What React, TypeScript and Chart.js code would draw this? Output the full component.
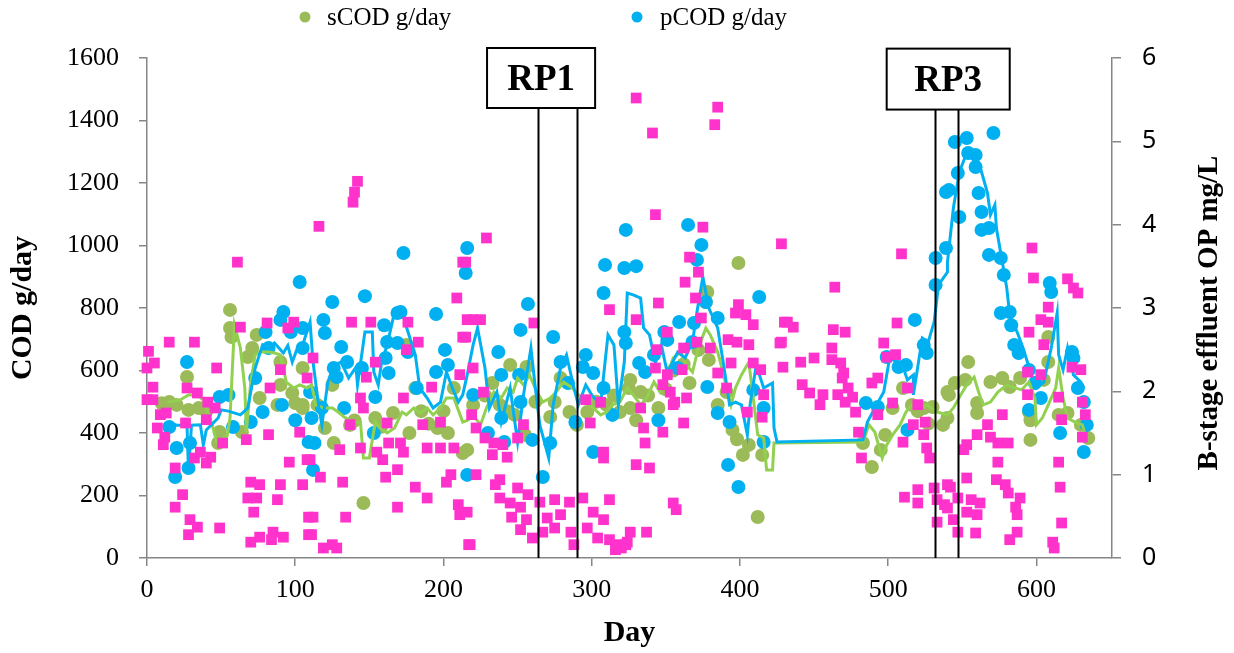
import React, { useEffect, useRef } from "react";
import { Chart, registerables } from "chart.js";

Chart.register(...registerables);

// ---- data (day, value) ----
const sCodPoints: [number, number][] = [
  [10, 495], [15, 499], [20, 490], [27, 579], [28, 474], [35, 480], [40, 470], [48, 368], [49, 403], [56, 794], [56, 736], [57, 707],
  [64, 403], [68, 643], [71, 672], [74, 714], [76, 512], [88, 490], [90, 554], [90, 627], [98, 528], [100, 496], [105, 480],
  [105, 490], [105, 608], [115, 490], [120, 416], [125, 554], [126, 368], [137, 426], [140, 440], [146, 176], [154, 448],
  [158, 420], [166, 464], [175, 682], [177, 400], [181, 544], [185, 470], [190, 430], [196, 416], [200, 470], [203, 400],
  [207, 544], [213, 336], [216, 346], [220, 490], [228, 520], [233, 560], [238, 490], [243, 470], [245, 618], [248, 458],
  [255, 394], [256, 611], [262, 500], [272, 451], [275, 499], [279, 576], [285, 467], [290, 426], [297, 467], [303, 500],
  [310, 490], [315, 520], [319, 467], [325, 544], [326, 570], [326, 480], [330, 441], [333, 531], [338, 520], [345, 480],
  [350, 540], [355, 600], [362, 620], [366, 560], [372, 666], [377, 819], [378, 851], [379, 634], [385, 490], [391, 531],
  [395, 410], [398, 380], [399, 944], [402, 330], [406, 362], [412, 131], [415, 330], [483, 368], [489, 291], [495, 346],
  [498, 394], [503, 480], [510, 544], [516, 490], [520, 470], [524, 480], [527, 430], [530, 483], [537, 426], [540, 531],
  [540, 448], [541, 522], [545, 560], [552, 570], [554, 627], [560, 496], [560, 464], [569, 563], [577, 576], [582, 547],
  [589, 576], [595, 467], [596, 441], [596, 378], [605, 570], [608, 707], [608, 627], [615, 458], [621, 464], [630, 426],
  [635, 384],
];

const pCodPoints: [number, number][] = [
  [15, 419], [19, 259], [20, 352], [27, 627], [28, 288], [29, 368], [49, 515], [55, 522], [58, 419], [70, 435], [73, 576],
  [78, 467], [80, 723], [82, 672], [90, 762], [91, 490], [92, 787], [97, 723], [100, 441], [103, 883], [105, 736], [105, 672],
  [109, 371], [110, 531], [111, 448], [112, 282], [113, 368], [118, 480], [119, 762], [120, 720], [125, 819], [126, 608],
  [128, 579], [131, 675], [133, 480], [135, 627], [145, 608], [147, 838], [153, 400], [154, 515], [160, 745], [161, 640],
  [162, 691], [163, 592], [169, 784], [169, 688], [171, 787], [173, 976], [176, 659], [182, 544], [195, 781], [195, 595],
  [201, 666], [203, 618], [215, 912], [216, 992], [216, 266], [220, 522], [230, 400], [237, 659], [239, 586], [239, 448],
  [241, 371], [251, 586], [252, 730], [252, 499], [257, 813], [260, 378], [267, 259], [272, 368], [274, 707], [279, 627],
  [284, 560], [289, 435], [294, 611], [296, 650], [301, 592], [301, 339], [308, 848], [308, 544], [309, 938], [314, 458],
  [322, 928], [322, 723], [323, 1050], [323, 688], [330, 934], [332, 624], [336, 595], [342, 650], [345, 441], [349, 723],
  [351, 698], [358, 608], [359, 755], [365, 1066], [368, 691], [369, 752], [371, 954], [374, 1002], [377, 819], [378, 547],
  [385, 768], [385, 464], [392, 298], [393, 435], [399, 227], [409, 538], [413, 835], [416, 480], [416, 371], [485, 496],
  [493, 483], [499, 643], [507, 611], [512, 618], [513, 410], [518, 762], [524, 682], [526, 656], [532, 874], [532, 960],
  [539, 992], [539, 1171], [541, 1178], [545, 1331], [547, 1232], [548, 1091], [553, 1344], [554, 1296], [559, 1290],
  [559, 1251], [561, 1168], [563, 1107], [563, 1050], [568, 1056], [568, 970], [571, 1360], [576, 960], [576, 784],
  [578, 906], [582, 787], [583, 745], [585, 682], [588, 656], [595, 602], [595, 474], [599, 560], [603, 512], [609, 880],
  [610, 851], [616, 400], [624, 659], [625, 640], [628, 544], [632, 499], [632, 339], [634, 426],
];

const sCodTrend: [number, number][] = [
  [14, 499], [22, 505], [28, 522], [34, 522], [38, 505], [44, 426], [47, 371], [51, 384], [54, 390], [56, 448], [59, 746],
  [63, 672], [66, 544], [67, 403], [70, 563], [73, 650], [76, 659], [82, 659], [86, 656], [90, 650], [94, 563], [99, 544],
  [103, 554], [108, 544], [111, 554], [114, 490], [119, 480], [125, 480], [129, 467], [133, 451], [139, 435], [144, 435],
  [146, 320], [150, 320], [154, 435], [157, 416], [162, 400], [167, 416], [172, 467], [175, 458], [180, 480], [184, 464],
  [189, 480], [193, 458], [198, 480], [202, 512], [207, 512], [213, 435], [216, 440], [220, 458], [225, 426], [229, 480],
  [234, 531], [239, 512], [243, 544], [247, 531], [250, 576], [254, 554], [258, 586], [263, 531], [267, 499], [272, 512],
  [276, 531], [281, 563], [287, 544], [291, 522], [296, 499], [301, 480], [306, 458], [310, 467], [314, 490], [319, 499],
  [324, 544], [328, 522], [333, 490], [337, 512], [342, 563], [346, 531], [351, 586], [355, 640], [360, 659], [364, 618],
  [368, 595], [372, 672], [377, 736], [380, 714], [385, 659], [389, 586], [394, 490], [397, 544], [401, 586], [406, 627],
  [409, 512], [412, 394], [416, 384], [418, 282], [422, 282], [423, 368], [483, 371], [487, 426], [491, 403], [496, 320],
  [499, 362], [503, 394], [508, 426], [512, 467], [516, 490], [522, 480], [526, 490], [533, 467], [540, 458], [544, 480],
  [549, 522], [553, 554], [558, 579], [561, 531], [564, 490], [569, 499], [574, 531], [580, 554], [584, 547], [590, 538],
  [595, 563], [599, 512], [600, 426], [604, 448], [608, 490], [613, 544], [615, 608], [618, 512], [621, 448], [626, 435],
  [631, 426], [633, 394],
];

const pCodTrend: [number, number][] = [
  [15, 432], [20, 425], [27, 425], [28, 275], [30, 425], [36, 426], [38, 362], [40, 410], [48, 448], [50, 474], [55, 470],
  [63, 458], [68, 480], [70, 531], [73, 608], [78, 682], [83, 672], [86, 688], [92, 656], [95, 680], [98, 627], [101, 666],
  [105, 682], [110, 755], [112, 627], [116, 480], [118, 426], [122, 563], [126, 618], [131, 627], [136, 576], [141, 611],
  [142, 554], [147, 723], [152, 723], [153, 595], [156, 554], [158, 618], [162, 682], [167, 787], [172, 794], [175, 739],
  [181, 650], [184, 544], [189, 512], [193, 480], [198, 499], [202, 595], [206, 544], [210, 499], [213, 522], [216, 586],
  [220, 682], [223, 736], [228, 608], [231, 480], [236, 531], [239, 435], [245, 544], [250, 371], [254, 522], [259, 672],
  [262, 544], [265, 426], [271, 320], [274, 490], [279, 608], [283, 650], [288, 544], [291, 490], [296, 554], [300, 522],
  [306, 490], [309, 627], [311, 714], [315, 682], [318, 490], [322, 627], [324, 848], [328, 842], [333, 832], [335, 736],
  [339, 714], [343, 624], [347, 682], [351, 592], [358, 659], [363, 640], [368, 691], [371, 787], [375, 899], [379, 800],
  [385, 736], [389, 618], [393, 490], [397, 499], [401, 490], [405, 394], [407, 496], [411, 618], [416, 544], [422, 560],
  [423, 416], [425, 371], [483, 378], [486, 435], [491, 480], [497, 531], [501, 640], [506, 627], [510, 611], [513, 570],
  [517, 586], [517, 522], [523, 704], [527, 691], [531, 755], [534, 874], [540, 915], [540, 947], [544, 1120], [548, 1235],
  [553, 1296], [559, 1290], [563, 1235], [567, 1168], [569, 1098], [572, 1130], [573, 1056], [577, 947], [580, 864],
  [582, 778], [587, 723], [591, 672], [596, 595], [600, 544], [605, 563], [610, 672], [614, 784], [615, 650], [618, 602],
  [621, 672], [625, 586], [630, 563], [632, 544],
];

const opPoints: [number, number][] = [
  [61, 3.55], [15, 2.59], [32, 2.59], [1, 2.48], [5, 2.34], [0, 2.28], [4, 2.05], [0, 1.9], [4, 1.9], [47, 2.28], [27, 2.04],
  [34, 1.98], [9, 1.72], [13, 1.74], [7, 1.56], [12, 1.45], [11, 1.36], [26, 1.62], [41, 1.87], [46, 1.8], [40, 1.66],
  [51, 1.38], [63, 2.77], [81, 2.82], [99, 2.83], [95, 2.76], [83, 2.04], [90, 2.26], [67, 1.42], [82, 1.48], [103, 1.51],
  [19, 1.08], [32, 1.2], [40, 1.14], [43, 1.21], [36, 1.27], [96, 1.15], [108, 1.18], [70, 0.91], [76, 0.88], [90, 0.88],
  [105, 0.88], [68, 0.72], [74, 0.72], [88, 0.7], [24, 0.76], [19, 0.61], [72, 0.55], [29, 0.46], [34, 0.37], [28, 0.28],
  [49, 0.36], [70, 0.19], [76, 0.25], [84, 0.22], [85, 0.31], [92, 0.25], [109, 0.28], [109, 0.49],
  [142, 4.52], [140, 4.39], [139, 4.27], [116, 3.98], [213, 3.55], [209, 3.12], [138, 2.83], [151, 2.83], [176, 2.83],
  [216, 2.86], [183, 2.59], [213, 2.65], [175, 2.5], [154, 2.35], [148, 2.17], [108, 2.16], [112, 2.4], [192, 2.05],
  [211, 2.2], [173, 1.92], [144, 1.92], [146, 1.8], [137, 1.6], [162, 1.62], [186, 1.6], [198, 1.63], [163, 1.38],
  [171, 1.38], [144, 1.32], [130, 1.3], [155, 1.27], [173, 1.27], [189, 1.32], [198, 1.32], [207, 1.32], [110, 1.18],
  [159, 1.18], [117, 0.97], [132, 0.91], [161, 0.97], [169, 1.06], [202, 0.91], [205, 1.0], [181, 0.85], [189, 0.72],
  [112, 0.49], [134, 0.49], [169, 0.61], [210, 0.64], [211, 0.52], [111, 0.28], [119, 0.12], [125, 0.16], [128, 0.12],
  [217, 0.16],
  [229, 3.84], [215, 3.55], [312, 2.98], [220, 2.86], [225, 2.86], [261, 2.82], [215, 2.65], [220, 2.28], [227, 1.99],
  [254, 1.6], [299, 1.62], [306, 1.87], [296, 1.9], [219, 1.72], [222, 1.56], [228, 1.44], [234, 1.38], [240, 1.36],
  [250, 1.44], [233, 1.24], [243, 1.21], [308, 1.27], [308, 1.2], [222, 1.0], [238, 0.94], [235, 0.88], [250, 0.84],
  [257, 0.76], [238, 0.72], [245, 0.66], [252, 0.61], [265, 0.67], [275, 0.7], [285, 0.67], [294, 0.72], [312, 0.7],
  [246, 0.49], [256, 0.46], [270, 0.48], [279, 0.52], [301, 0.55], [308, 0.46], [252, 0.34], [267, 0.31], [275, 0.36],
  [286, 0.31], [297, 0.36], [288, 0.16], [304, 0.24], [312, 0.22], [318, 0.16], [324, 0.19], [218, 0.16], [260, 0.24],
  [216, 0.55], [320, 0.12], [316, 0.1],
  [330, 5.52], [341, 5.1], [385, 5.41], [383, 5.2], [343, 4.12], [428, 3.77], [375, 3.97], [366, 3.61], [372, 3.43],
  [363, 3.31], [370, 3.12], [345, 3.06], [430, 2.83], [330, 2.86], [351, 2.71], [374, 2.88], [380, 2.52], [399, 3.04],
  [404, 2.92], [409, 2.8], [397, 2.94], [392, 2.62], [398, 2.59], [406, 2.56], [427, 2.58], [429, 2.29], [344, 2.5],
  [362, 2.52], [371, 2.59], [385, 2.22], [394, 2.34], [409, 2.34], [414, 2.26], [343, 2.28], [351, 2.2], [348, 2.08],
  [361, 2.26], [391, 2.04], [353, 1.99], [356, 1.87], [364, 1.92], [333, 1.8], [355, 1.84], [416, 1.96], [405, 1.75],
  [415, 1.69], [335, 1.56], [348, 1.51], [362, 1.62], [336, 1.38], [330, 1.12], [339, 1.08], [355, 0.66], [357, 0.58],
  [326, 0.31], [337, 0.31], [323, 0.16],
  [509, 3.65], [464, 3.25], [432, 2.83], [436, 2.77], [428, 2.59], [463, 2.74], [471, 2.71], [506, 2.82], [441, 2.35],
  [450, 2.4], [462, 2.52], [462, 2.38], [468, 2.34], [470, 2.22], [469, 2.16], [442, 2.08], [447, 1.98], [456, 1.96],
  [454, 1.84], [466, 1.96], [473, 2.04], [476, 1.93], [471, 1.87], [478, 1.75], [480, 1.51], [482, 1.2], [497, 2.58],
  [499, 2.41], [505, 2.44], [489, 2.1], [493, 2.16], [503, 1.86], [513, 2.04], [493, 1.72], [510, 1.39], [517, 1.6],
  [520, 1.84], [525, 1.63], [524, 1.48], [526, 1.32], [528, 1.2], [511, 0.73], [520, 0.82], [520, 0.66], [531, 0.84],
  [533, 0.7], [533, 0.43], [540, 0.88], [540, 0.6],
  [597, 3.72], [598, 3.36], [621, 3.35], [625, 3.24], [628, 3.18], [608, 3.01], [603, 2.86], [608, 2.83], [595, 2.71],
  [605, 2.56], [577, 1.72], [567, 1.6], [560, 1.48], [569, 1.45], [574, 1.38], [581, 1.38], [553, 1.36], [551, 1.3],
  [594, 2.23], [603, 2.2], [624, 2.29], [630, 2.26], [631, 1.87], [633, 1.72], [617, 1.66], [631, 1.45], [615, 1.93],
  [594, 1.96], [615, 1.15], [616, 0.85], [617, 0.42], [611, 0.19], [574, 1.15], [573, 0.94], [579, 0.88], [581, 0.78],
  [589, 0.72], [586, 0.61], [587, 0.52], [587, 0.31], [582, 0.22], [553, 0.96], [556, 0.7], [562, 0.66], [560, 0.52],
  [559, 0.3], [553, 0.55], [547, 0.72], [542, 0.85], [538, 0.64], [544, 0.46], [547, 0.31], [612, 0.12],
];

const xTicks = [0, 100, 200, 300, 400, 500, 600];
const rpLabels = ["RP1", "RP3"];
const rpLineDays: [number, number][] = [[263.8, 290.2], [531.7, 547.2]];
const rpBoxDays: [number, number][] = [[229.4, 302.3], [499, 582]];
const rpBoxCod: [number, number][] = [[1632, 1440], [1630, 1435]];

const legendLabels = ["sCOD g/day", "pCOD g/day"];

const GREEN_PT = "#9BBB59";
const GREEN_LN = "#92D050";
const BLUE = "#00B0F0";
const PINK = "#FF33CC";
const AXIS = "#868686";
const SERIF = "'Liberation Serif', 'Times New Roman', serif";

const toXY = (arr: [number, number][]) => arr.map(([x, y]) => ({ x, y }));

const overlayPlugin = {
  id: "overlay",
  afterDatasetsDraw(chart: any) {
    const ctx = chart.ctx;
    const xs = chart.scales.x;
    const ys = chart.scales.y;
    const bottom = chart.chartArea.bottom;
    ctx.save();
    ctx.strokeStyle = "#000";
    ctx.lineWidth = 2;
    rpLabels.forEach((label, i) => {
      const bx0 = xs.getPixelForValue(rpBoxDays[i][0]);
      const bx1 = xs.getPixelForValue(rpBoxDays[i][1]);
      const by0 = ys.getPixelForValue(rpBoxCod[i][0]);
      const by1 = ys.getPixelForValue(rpBoxCod[i][1]);
      ctx.fillStyle = "#fff";
      ctx.fillRect(bx0, by0, bx1 - bx0, by1 - by0);
      ctx.strokeRect(bx0, by0, bx1 - bx0, by1 - by0);
      rpLineDays[i].forEach((d) => {
        const lx = Math.round(xs.getPixelForValue(d)) + 0.5;
        ctx.beginPath();
        ctx.moveTo(lx, by1);
        ctx.lineTo(lx, bottom);
        ctx.stroke();
      });
      ctx.fillStyle = "#000";
      ctx.font = `bold 37px ${SERIF}`;
      ctx.textAlign = "center";
      ctx.textBaseline = "middle";
      ctx.fillText(label, (bx0 + bx1) / 2, (by0 + by1) / 2 + 2);
    });
    ctx.restore();
  },
  afterDraw(chart: any) {
    const ctx = chart.ctx;
    ctx.save();
    // right axis title (reads bottom to top)
    ctx.translate(1210, 313);
    ctx.rotate(-Math.PI / 2);
    ctx.fillStyle = "#000";
    ctx.font = `bold 29px ${SERIF}`;
    ctx.textAlign = "center";
    ctx.textBaseline = "middle";
    ctx.fillText("B-stage effluent OP mg/L", 0, 0);
    ctx.restore();

    // legend
    ctx.save();
    const items = [
      { dot: 305, text: 327, color: GREEN_PT, label: legendLabels[0] },
      { dot: 637, text: 660, color: BLUE, label: legendLabels[1] },
    ];
    ctx.font = `25px ${SERIF}`;
    ctx.textBaseline = "middle";
    ctx.textAlign = "left";
    items.forEach((it) => {
      ctx.fillStyle = it.color;
      ctx.beginPath();
      ctx.arc(it.dot, 17, 5.5, 0, Math.PI * 2);
      ctx.fill();
      ctx.fillStyle = "#000";
      ctx.fillText(it.label, it.text, 18);
    });
    ctx.restore();
  },
};

export default function App() {
  const ref = useRef<HTMLCanvasElement | null>(null);
  useEffect(() => {
    if (!ref.current) return;
    Chart.defaults.font.family = SERIF;
    const chart = new Chart(ref.current, {
      type: "scatter",
      data: {
        datasets: [
          {
            label: "OP",
            data: toXY(opPoints),
            yAxisID: "y2",
            pointStyle: "rect",
            pointRadius: 7.6,
            backgroundColor: PINK,
            borderColor: PINK,
            borderWidth: 0,
            showLine: false,
            clip: false,
            order: 0,
          } as any,
          {
            label: "pCOD trend",
            data: toXY(pCodTrend),
            yAxisID: "y",
            showLine: true,
            borderColor: BLUE,
            borderWidth: 3,
            pointRadius: 0,
            tension: 0,
            order: 1,
          } as any,
          {
            label: "sCOD trend",
            data: toXY(sCodTrend),
            yAxisID: "y",
            showLine: true,
            borderColor: GREEN_LN,
            borderWidth: 3,
            pointRadius: 0,
            tension: 0,
            order: 2,
          } as any,
          {
            label: legendLabels[1],
            data: toXY(pCodPoints),
            yAxisID: "y",
            pointStyle: "circle",
            pointRadius: 7,
            backgroundColor: BLUE,
            borderWidth: 0,
            showLine: false,
            clip: false,
            order: 3,
          } as any,
          {
            label: legendLabels[0],
            data: toXY(sCodPoints),
            yAxisID: "y",
            pointStyle: "circle",
            pointRadius: 7,
            backgroundColor: GREEN_PT,
            borderWidth: 0,
            showLine: false,
            clip: false,
            order: 4,
          } as any,
        ],
      },
      options: {
        animation: false,
        responsive: false,
        devicePixelRatio: 1,
        layout: { autoPadding: false, padding: { top: 58, left: 0, right: 0, bottom: 0 } },
        plugins: { legend: { display: false }, tooltip: { enabled: false } },
        scales: {
          x: {
            type: "linear",
            min: 0,
            max: 651,
            afterBuildTicks: (s: any) => {
              s.ticks = xTicks.map((v) => ({ value: v }));
            },
            afterFit: (s: any) => {
              s.height = 95;
            },
            grid: { drawOnChartArea: false, drawTicks: true, tickLength: 8, color: AXIS, lineWidth: 1.5 },
            border: { display: true, color: AXIS, width: 1.5 },
            ticks: {
              color: "#000",
              font: { size: 26, family: SERIF },
              padding: 9,
              maxRotation: 0,
              callback: (v: any) => String(v),
            },
            title: {
              display: true,
              text: "Day",
              color: "#000",
              font: { size: 30, weight: "bold", family: SERIF },
              padding: { top: 0, bottom: 2 },
            },
          },
          y: {
            type: "linear",
            position: "left",
            min: 0,
            max: 1600,
            ticks: {
              stepSize: 200,
              color: "#000",
              font: { size: 26, family: SERIF },
              padding: 20,
              callback: (v: any) => String(v),
            },
            afterFit: (s: any) => {
              s.width = 147;
            },
            grid: { drawOnChartArea: false, drawTicks: true, tickLength: 8, color: AXIS, lineWidth: 1.5 },
            border: { display: true, color: AXIS, width: 1.5 },
            title: {
              display: true,
              text: "COD g/day",
              color: "#000",
              font: { size: 30, weight: "bold", family: SERIF },
              padding: { top: 5, bottom: 0 },
            },
          },
          y2: {
            type: "linear",
            position: "right",
            min: 0,
            max: 6,
            ticks: {
              stepSize: 1,
              color: "#000",
              font: { size: 25, family: "'Noto Sans', sans-serif" },
              padding: 21,
              callback: (v: any) => String(v),
            },
            afterFit: (s: any) => {
              s.width = 122;
            },
            grid: { drawOnChartArea: false, drawTicks: true, tickLength: 9, color: AXIS, lineWidth: 1.5 },
            border: { display: true, color: AXIS, width: 1.5 },
          },
        },
      } as any,
      plugins: [overlayPlugin],
    });
    return () => chart.destroy();
  }, []);

  return (
    <div style={{ position: "fixed", left: 0, top: 0, width: 1234, height: 653, background: "#fff" }}>
      <canvas ref={ref} width={1234} height={653} style={{ display: "block", width: 1234, height: 653 }} />
    </div>
  );
}
